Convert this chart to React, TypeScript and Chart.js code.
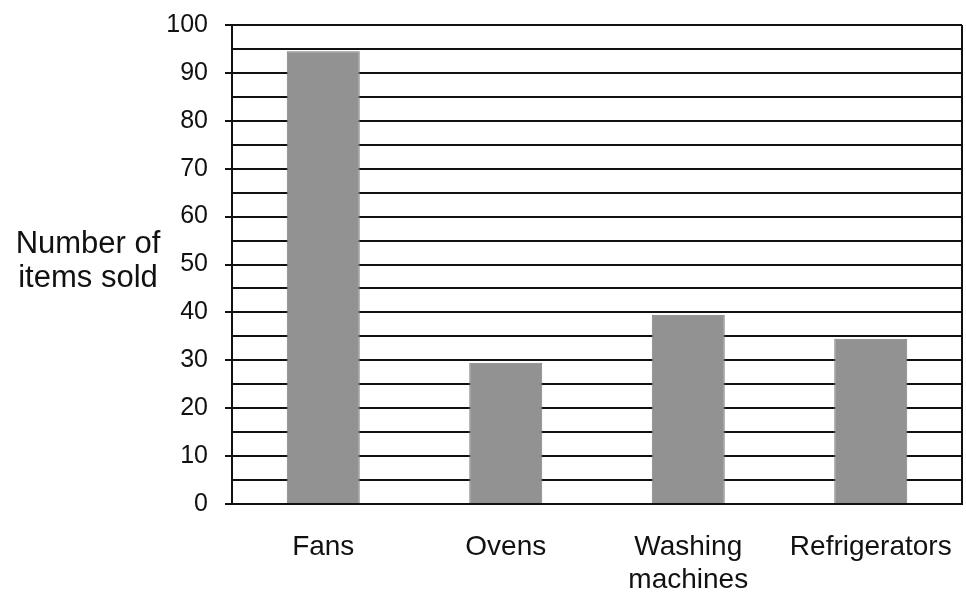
import React, { useEffect, useRef } from "react";
import { Chart, registerables } from "chart.js";

Chart.register(...registerables);

const categories: (string | string[])[] = ["Fans", "Ovens", ["Washing", "machines"], "Refrigerators"];
const itemsSold: number[] = [94.5, 29.5, 39.5, 34.5];
const yTitleLines: string[] = ["Number of", "items sold"];
const yMin = 0;
const yMax = 100;
const gridStep = 5;
const labelStep = 10;

const FONT = "'Liberation Sans', Arial, sans-serif";

const framePlugin = {
  id: "frame",
  afterDraw(chart: any) {
    const { ctx, chartArea } = chart;
    ctx.save();
    ctx.strokeStyle = "#111";
    ctx.lineWidth = 2;
    ctx.beginPath();
    ctx.moveTo(chartArea.right, chartArea.top);
    ctx.lineTo(chartArea.right, chartArea.bottom);
    ctx.stroke();
    ctx.fillStyle = "#111";
    ctx.font = `31px ${FONT}`;
    ctx.textAlign = "center";
    ctx.textBaseline = "middle";
    yTitleLines.forEach((t, i) => ctx.fillText(t, 88, 244 + i * 34));
    ctx.restore();
  },
};

export default function App() {
  const ref = useRef<HTMLCanvasElement | null>(null);
  useEffect(() => {
    document.body.style.margin = "0";
    const canvas = ref.current!;
    const chart = new Chart(canvas, {
      type: "bar",
      data: {
        labels: categories as any,
        datasets: [
          {
            data: itemsSold,
            backgroundColor: "#929292",
            borderColor: "#7c7c7c",
            borderWidth: 1,
            barPercentage: 0.4,
            categoryPercentage: 1,
          },
        ],
      },
      options: {
        animation: false,
        responsive: false,
        devicePixelRatio: 1,
        layout: { padding: { top: 25, right: 4, left: 0, bottom: 0 } },
        plugins: { legend: { display: false }, tooltip: { enabled: false } },
        scales: {
          x: {
            grid: { display: false, drawTicks: false },
            border: { display: true, color: "#111", width: 2 },
            ticks: {
              color: "#111",
              padding: 26,
              font: { family: FONT, size: 28, lineHeight: 1.2 },
              maxRotation: 0,
              autoSkip: false,
            },
            afterFit(scale: any) {
              scale.height = 100;
              scale.paddingLeft = 0;
              scale.paddingRight = 0;
            },
          },
          y: {
            min: yMin,
            max: yMax,
            grid: {
              color: "#111",
              lineWidth: 2,
              tickLength: 7,
              tickColor: (ctx: any) =>
                ctx.tick && ctx.tick.value % labelStep === 0 ? "#111" : "rgba(0,0,0,0)",
            },
            border: { display: true, color: "#111", width: 2 },
            ticks: {
              stepSize: gridStep,
              autoSkip: false,
              color: "#111",
              padding: 17,
              font: { family: FONT, size: 25 },
              callback: (v: any) => (Number(v) % labelStep === 0 ? String(v) : ""),
            },
            afterFit(scale: any) {
              scale.width = 232;
              scale.paddingTop = 0;
              scale.paddingBottom = 0;
            },
          },
        },
      },
      plugins: [framePlugin],
    });
    return () => chart.destroy();
  }, []);
  return (
    <div style={{ width: 966, height: 604, background: "#fff" }}>
      <canvas ref={ref} width={966} height={604} style={{ display: "block" }} />
    </div>
  );
}
